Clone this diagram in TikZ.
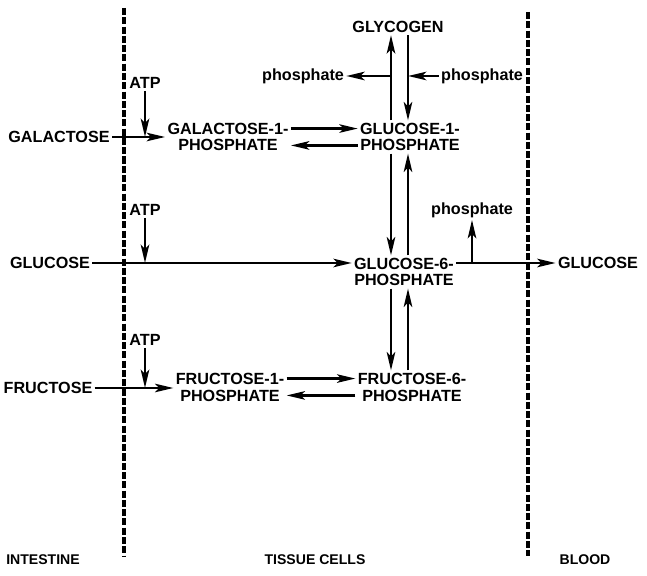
\documentclass[tikz,border=0pt]{standalone}
\usepackage{fontspec}
\setmainfont{Liberation Sans}
\usetikzlibrary{arrows.meta}
\begin{document}
\begin{tikzpicture}[x=0.025cm,y=-0.025cm,
  >={Stealth[length=13pt,width=6pt,inset=3pt]},
  lbl/.style={font=\bfseries\fontsize{11.5}{12}\selectfont,inner sep=1.5pt,align=center},
  place/.style={font=\bfseries\fontsize{10}{11}\selectfont,inner sep=1.5pt},
  flow/.style={->,line width=1.9pt},
  membrane/.style={line width=2.8pt,dash pattern=on 5pt off 1.6pt}]
\useasboundingbox (0,0) rectangle (647,576);
\draw[membrane] (124,8) -- (124,556);
\draw[membrane] (528,12) -- (528,556);
\coordinate (cl) at (391,0);
\coordinate (cr) at (408,0);
\node[lbl] (glyc) at (398,27) {GLYCOGEN};
\node[lbl] (phl) at (303,76) {phosphate};
\node[lbl] (phr) at (482,76) {phosphate};
\node[lbl] (atpa) at (145,83) {ATP};
\node[lbl] (gal) at (59,137) {GALACTOSE};
\node[lbl] (galp) at (228,137) {GALACTOSE-1-\\PHOSPHATE};
\node[lbl] (gop) at (410,137) {GLUCOSE-1-\\PHOSPHATE};
\node[lbl] (atpb) at (145,210) {ATP};
\node[lbl] (pho) at (472,210) {phosphate};
\node[lbl] (glc) at (50,263) {GLUCOSE};
\node[lbl] (g6p) at (404,272) {GLUCOSE-6-\\PHOSPHATE};
\node[lbl] (bglc) at (598,263) {GLUCOSE};
\node[lbl] (atpc) at (145,340) {ATP};
\node[lbl] (fru) at (48,388) {FRUCTOSE};
\node[lbl] (fop) at (230,387) {FRUCTOSE-1-\\PHOSPHATE};
\node[lbl] (f6p) at (412,387) {FRUCTOSE-6-\\PHOSPHATE};
\node[place] (intes) at (43,560) {INTESTINE};
\node[place] (tiss) at (315,560) {TISSUE CELLS};
\node[place] (blood) at (585,560) {BLOOD};
\draw[flow] (gop.north -| cl) -- (glyc.south -| cl);
\draw[flow] (glyc.south -| cr) -- (gop.north -| cr);
\draw[flow] (phl.east -| cl) -- (phl.east);
\draw[flow] (phr.west) -- (phr.west -| cr);
\draw[flow] (gal.east) -- (galp.west |- gal.east);
\draw[flow] (atpa) -- (atpa |- gal.east);
\draw[flow] ([yshift=6pt]galp.east) -- ([yshift=6pt]galp.east -| gop.west);
\draw[flow] ([yshift=-6pt]galp.east -| gop.west) -- ([yshift=-6pt]galp.east);
\draw[flow] (gop.south -| cl) -- (g6p.north -| cl);
\draw[flow] (g6p.north -| cr) -- (gop.south -| cr);
\draw[flow] (glc.east) -- (g6p.west |- glc.east);
\draw[flow] (atpb) -- (atpb |- glc.east);
\draw[flow] (g6p.east |- bglc.west) -- (bglc.west);
\draw[flow] (pho |- bglc.west) -- (pho);
\draw[flow] (g6p.south -| cl) -- (f6p.north -| cl);
\draw[flow] (f6p.north -| cr) -- (g6p.south -| cr);
\draw[flow] (fru.east) -- (fop.west |- fru.east);
\draw[flow] (atpc) -- (atpc |- fru.east);
\draw[flow] ([yshift=6pt]fop.east) -- ([yshift=6pt]fop.east -| f6p.west);
\draw[flow] ([yshift=-6pt]fop.east -| f6p.west) -- ([yshift=-6pt]fop.east);
\end{tikzpicture}
\end{document}
